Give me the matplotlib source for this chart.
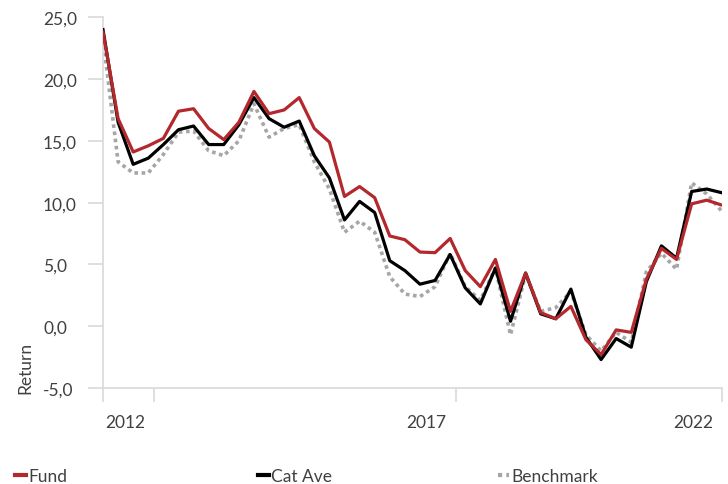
import matplotlib
matplotlib.use("Agg")
import matplotlib.pyplot as plt
import numpy as np

plt.rcParams['font.family'] = ['Lato', 'DejaVu Sans']

# quarterly returns
fund = [23.8, 16.8, 14.1, 14.6, 15.2, 17.4, 17.6, 16.0, 15.1, 16.5,
        19.0, 17.2, 17.5, 18.5, 16.0, 14.9, 10.5, 11.3, 10.4, 7.3,
        7.0, 6.0, 5.95, 7.1, 4.5, 3.2, 5.4, 1.2, 4.3, 1.1,
        0.6, 1.6, -1.1, -2.3, -0.3, -0.5, 3.8, 6.3, 5.4, 9.9,
        10.2, 9.8]
cat_ave = [24.0, 16.5, 13.1, 13.6, 14.7, 15.9, 16.2, 14.7, 14.7, 16.3,
           18.5, 16.8, 16.1, 16.6, 13.8, 12.0, 8.6, 10.1, 9.2, 5.3,
           4.5, 3.4, 3.7, 5.8, 3.1, 1.8, 4.7, 0.4, 4.3, 1.0,
           0.6, 3.0, -0.9, -2.7, -1.0, -1.7, 3.6, 6.5, 5.5, 10.9,
           11.1, 10.8]
benchmark = [23.3, 13.3, 12.4, 12.4, 13.9, 15.7, 15.8, 14.2, 13.8, 15.0,
             18.0, 15.3, 16.0, 16.3, 13.3, 11.1, 7.6, 8.5, 7.6, 4.0,
             2.6, 2.4, 3.2, 5.9, 3.2, 2.1, 4.7, -0.7, 4.2, 1.2,
             1.5, 2.8, -0.7, -2.0, -0.5, -1.3, 4.4, 5.9, 4.6, 11.6,
             10.7, 9.3]
year_labels = ['2012', '2017', '2022']

x = np.arange(len(fund))
txt = '#404040'
axis_col = '#D9D9D9'
fs = 12.5

fig = plt.figure(figsize=(7.28, 4.85), dpi=100)
ax = fig.add_axes([0.1415, 0.198, 0.850, 0.7643])

l_bm, = ax.plot(x, benchmark, color='#A6A6A6', lw=2.6, ls=(0, (1, 1)), zorder=2)
l_cat, = ax.plot(x, cat_ave, color='black', lw=2.3, zorder=3)
l_fund, = ax.plot(x, fund, color='#B3282D', lw=2.3, zorder=4)

ax.set_xlim(0, len(fund) - 1)
ax.set_ylim(-5, 25)
yt = np.arange(-5, 26, 5)
ax.set_yticks(yt)
ax.set_yticklabels([('%.1f' % v).replace('.', ',') for v in yt])
for t in ax.get_yticklabels():
    t.set_ha('left')

# tick marks every 20 quarters; labels sit just left of each mark
tick_pos = [3.38, 23.38, 41]
ax.set_xticks([p - 0.6 for p in tick_pos])
ax.set_xticklabels(year_labels, ha='right')
ax.set_xticks([0] + tick_pos, minor=True)

for s in ['top', 'right']:
    ax.spines[s].set_visible(False)
for s in ['left', 'bottom']:
    ax.spines[s].set_color(axis_col)
    ax.spines[s].set_linewidth(1.2)

ax.tick_params(axis='y', direction='out', length=10.8, width=1.2, color=axis_col,
               labelsize=fs, labelcolor=txt, pad=32.4)
ax.tick_params(axis='x', which='major', length=0, labelsize=fs,
               labelcolor=txt, pad=19)
ax.tick_params(axis='x', which='minor', direction='out', length=10,
               width=1.2, color=axis_col)

ax.set_ylabel('Return', fontsize=fs, color=txt)
ax.yaxis.set_label_coords(-0.113, 0.057)

# legend entries spread along the bottom
for handle, name, xpos in [(l_fund, 'Fund', 0.020),
                           (l_cat, 'Cat Ave', 0.354),
                           (l_bm, 'Benchmark', 0.684)]:
    leg = fig.legend([handle], [name], loc='center left',
                     bbox_to_anchor=(xpos, 0.016), frameon=False,
                     handlelength=0.65, handletextpad=0.12, fontsize=fs,
                     borderaxespad=0, borderpad=0)
    for t in leg.get_texts():
        t.set_color(txt)
    for h in leg.legend_handles:
        h.set_linewidth(3)

fig.savefig('out.png', dpi=100)
